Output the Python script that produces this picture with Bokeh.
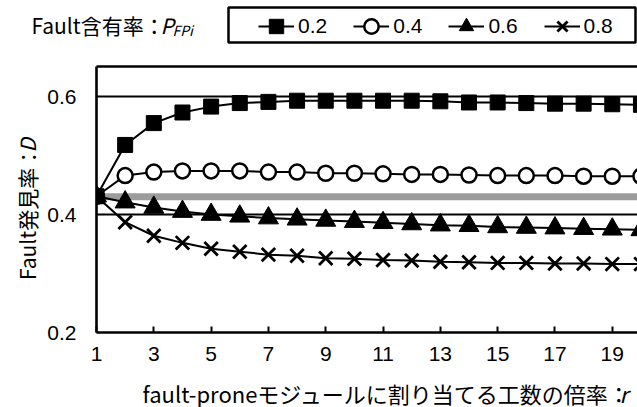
import math
from bokeh.plotting import figure
from bokeh.layouts import column, row
from bokeh.models import (Range1d, LinearAxis, FixedTicker, Span, Label, Legend,
                          LegendItem, BoxAnnotation)
from bokeh.embed import file_html
from bokeh.resources import INLINE

# ---- data ----
r_values = list(range(1, 21))
d_p02 = [0.431, 0.518, 0.555, 0.573, 0.583, 0.589, 0.591, 0.593, 0.593, 0.593,
         0.593, 0.593, 0.592, 0.590, 0.590, 0.589, 0.588, 0.588, 0.587, 0.586]
d_p04 = [0.431, 0.466, 0.472, 0.474, 0.474, 0.474, 0.472, 0.472, 0.470, 0.470,
         0.469, 0.468, 0.468, 0.467, 0.466, 0.466, 0.466, 0.465, 0.465, 0.465]
d_p06 = [0.431, 0.421, 0.412, 0.405, 0.400, 0.397, 0.394, 0.392, 0.390, 0.388,
         0.386, 0.384, 0.382, 0.381, 0.379, 0.378, 0.377, 0.376, 0.375, 0.374]
d_p08 = [0.431, 0.387, 0.364, 0.352, 0.342, 0.337, 0.332, 0.330, 0.326, 0.325,
         0.323, 0.322, 0.320, 0.319, 0.318, 0.318, 0.317, 0.317, 0.316, 0.316]
baseline_d = 0.43
series_labels = ["0.2", "0.4", "0.6", "0.8"]
x_ticks = [1, 3, 5, 7, 9, 11, 13, 15, 17, 19]
y_ticks = [0.2, 0.4, 0.6]

JP = "Noto Sans CJK JP"
LAT = "Liberation Sans"


def blank_fig(w, h, xr, yr):
    f = figure(width=w, height=h, output_backend="svg", toolbar_location=None,
               x_range=Range1d(*xr), y_range=Range1d(*yr),
               x_axis_location=None, y_axis_location=None, min_border=0)
    f.outline_line_color = None
    f.background_fill_color = "white"
    f.border_fill_color = "white"
    f.xgrid.visible = False
    f.ygrid.visible = False
    return f


def add_text(f, text, x, y, size="21px", italic=False, angle=0):
    f.add_layout(Label(x=x, y=y, text=text, text_font=JP, text_font_size=size,
                       text_font_style="italic" if italic else "normal",
                       text_baseline="middle", text_align="left", angle=angle,
                       text_color="black"))


styles = [
    dict(marker="square", size=15, fill_color="black", line_color="black", line_width=1),
    dict(marker="circle", size=15, fill_color="white", line_color="black", line_width=2.5),
    dict(marker="triangle", size=20, fill_color="black", line_color="black", line_width=1),
    dict(marker="x", size=19, fill_color="black", line_color="black", line_width=2.8),
]
series = [d_p02, d_p04, d_p06, d_p08]

# ---------------- main plot ----------------
p = figure(width=593, height=325, output_backend="svg", toolbar_location=None,
           x_range=Range1d(1, 19.88), y_range=Range1d(0.2, 0.651),
           min_border_left=52, min_border_right=0, min_border_top=16, min_border_bottom=43)
p.outline_line_color = None
p.background_fill_color = "white"
p.border_fill_color = "white"
p.xgrid.visible = False
p.ygrid.ticker = FixedTicker(ticks=y_ticks)
p.ygrid.grid_line_color = "black"
p.ygrid.grid_line_width = 2

xa = p.xaxis[0]
xa.ticker = FixedTicker(ticks=x_ticks)
xa.major_tick_in = 6
xa.major_tick_out = 0
xa.major_tick_line_width = 2
xa.minor_tick_line_color = None
xa.axis_line_width = 2.6
xa.major_label_text_font = LAT
xa.major_label_text_font_size = "21px"
xa.major_label_text_color = "black"
xa.major_label_standoff = 14

ya = p.yaxis[0]
ya.ticker = FixedTicker(ticks=y_ticks)
ya.major_tick_in = 0
ya.major_tick_out = 0
ya.major_tick_line_color = None
ya.minor_tick_line_color = None
ya.axis_line_width = 2.6
ya.major_label_text_font = LAT
ya.major_label_text_font_size = "21px"
ya.major_label_text_color = "black"
ya.major_label_standoff = 20
ya.major_label_overrides = {0.2: "0.2", 0.4: "0.4", 0.6: "0.6"}

top_axis = LinearAxis(ticker=FixedTicker(ticks=[]), axis_line_width=2.3,
                      major_tick_line_color=None, minor_tick_line_color=None)
p.add_layout(top_axis, "above")

p.add_layout(Span(location=baseline_d, dimension="width", line_color="#9c9c9c",
                  line_width=7, level="underlay"))

for d, st in reversed(list(zip(series, styles))):
    p.line(r_values, d, line_color="black", line_width=2)
    p.scatter(r_values, d, **st)

# ---------------- top strip: legend + title ----------------
t = blank_fig(637, 50, (0, 637), (50, 0))
# the series are repeated here on a y range that lies outside the strip,
# so they only serve as legend glyphs
t.extra_y_ranges = {"hidden": Range1d(10, 11)}
t.add_layout(BoxAnnotation(left=228, right=635, top=7, bottom=42,
                           fill_alpha=0, line_color="black", line_alpha=1,
                           line_width=2.5))
items = []
for lab, d, st in zip(series_labels, series, styles):
    lr = t.line(r_values, d, line_color="black", line_width=2, y_range_name="hidden")
    sr = t.scatter(r_values, d, y_range_name="hidden", **st)
    items.append(LegendItem(label=lab, renderers=[lr, sr]))
legend = Legend(items=items, orientation="horizontal", location=(258, 5))
legend.label_text_font = LAT
legend.label_text_font_size = "21px"
legend.label_text_color = "black"
legend.label_standoff = 4
legend.glyph_width = 36
legend.glyph_height = 38
legend.label_height = 38
legend.spacing = 26
legend.padding = 0
legend.margin = 0
legend.border_line_color = None
legend.background_fill_alpha = 0
t.add_layout(legend, "center")

add_text(t, "Fault含有率：", 31, 24)
add_text(t, "P", 160, 24, italic=True)
add_text(t, "FPi", 172, 29, size="14px", italic=True)

# ---------------- left strip: y label ----------------
lf = blank_fig(44, 325, (0, 44), (375, 50))
add_text(lf, "Fault発見率：", 26, 311, angle=math.pi / 2)
add_text(lf, "D", 26, 155, italic=True, angle=math.pi / 2)

# ---------------- bottom strip: x label ----------------
b = blank_fig(637, 32, (0, 637), (407, 375))
add_text(b, "fault-proneモジュールに割り当てる工数の倍率：", 142, 392, size="22px")
add_text(b, "r", 619, 392, size="22px", italic=True)

layout = column(t, row(lf, p, spacing=0), b, spacing=0)
open("out.html", "w").write(file_html(layout, INLINE))
